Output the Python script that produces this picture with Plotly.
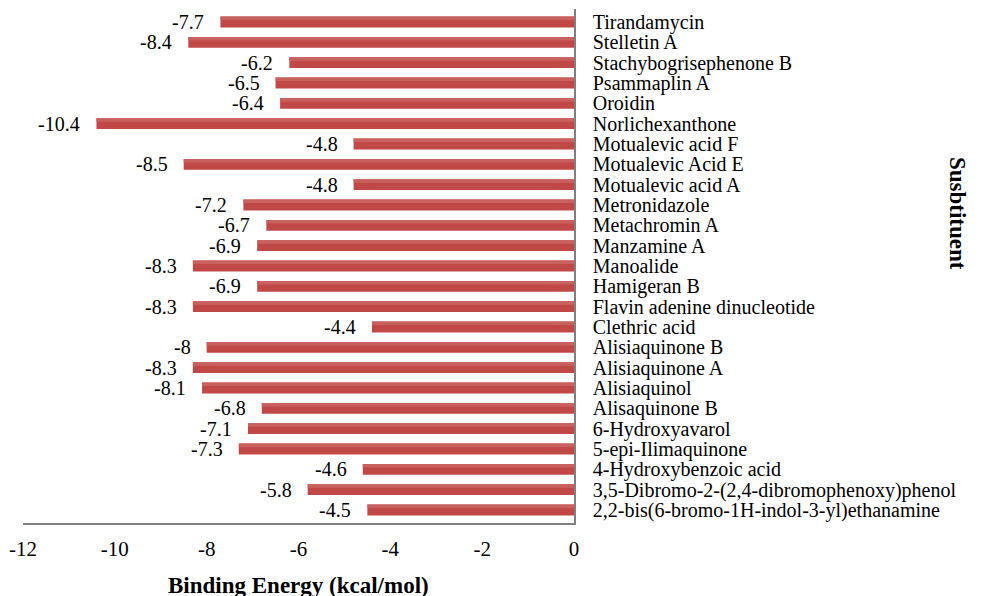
import plotly.graph_objects as go

compounds = [
    "Tirandamycin", "Stelletin A", "Stachybogrisephenone B", "Psammaplin A", "Oroidin",
    "Norlichexanthone", "Motualevic acid F", "Motualevic Acid E", "Motualevic acid A",
    "Metronidazole", "Metachromin A", "Manzamine A", "Manoalide", "Hamigeran B",
    "Flavin adenine dinucleotide", "Clethric acid", "Alisiaquinone B", "Alisiaquinone A",
    "Alisiaquinol", "Alisaquinone B", "6-Hydroxyavarol", "5-epi-Ilimaquinone",
    "4-Hydroxybenzoic acid", "3,5-Dibromo-2-(2,4-dibromophenoxy)phenol",
    "2,2-bis(6-bromo-1H-indol-3-yl)ethanamine",
]
binding_energy = [
    -7.7, -8.4, -6.2, -6.5, -6.4, -10.4, -4.8, -8.5, -4.8, -7.2, -6.7, -6.9, -8.3,
    -6.9, -8.3, -4.4, -8, -8.3, -8.1, -6.8, -7.1, -7.3, -4.6, -5.8, -4.5,
]
x_ticks = [-12, -10, -8, -6, -4, -2, 0]

FONT = "Liberation Serif"
OFF = 8  # page body margin
W, H = 981 - OFF, 596 - OFF
# target screen positions of plot area
L = 23 - OFF
R = W - (574 - OFF)
T = 9 - OFF
B = H - (523 - OFF)

fig = go.Figure()
fig.add_trace(go.Bar(
    x=binding_energy, y=compounds, orientation="h", width=0.53,
    marker=dict(color="#c04846", line=dict(width=0)),
    showlegend=False,
))
fig.add_trace(go.Bar(
    x=binding_energy, y=compounds, orientation="h", width=0.17, offset=-0.265,
    marker=dict(color="#c9625f", line=dict(width=0)),
    showlegend=False, hoverinfo="skip",
))

annotations = []
for c, v in zip(compounds, binding_energy):
    annotations.append(dict(
        x=v, y=c, xref="x", yref="y", text=f"{v:g}", showarrow=False,
        xanchor="right", yanchor="middle", xshift=-14,
        font=dict(family=FONT, size=20, color="black"),
    ))

pw = W - L - R
ph = H - T - B
annotations.append(dict(
    x=(298 - OFF - L) / pw, y=(H - B - (585 - OFF)) / ph, xref="paper", yref="paper",
    text="<b>Binding Energy (kcal/mol)</b>", showarrow=False,
    xanchor="center", yanchor="middle",
    font=dict(family=FONT, size=23, color="black"),
))
annotations.append(dict(
    x=(958 - OFF - L) / pw, y=(H - B - (213 - OFF)) / ph, xref="paper", yref="paper",
    text="<b>Susbtituent</b>", showarrow=False, textangle=90,
    xanchor="center", yanchor="middle",
    font=dict(family=FONT, size=23, color="black"),
))

fig.update_layout(
    width=W, height=H,
    margin=dict(l=L, r=R, t=T, b=B, autoexpand=False),
    paper_bgcolor="white", plot_bgcolor="white",
    font=dict(family=FONT, size=20, color="black"),
    barmode="overlay",
    annotations=annotations,
    xaxis=dict(
        range=[-12, 0], tickmode="array", tickvals=x_ticks,
        ticktext=[str(t) for t in x_ticks],
        showgrid=False, zeroline=False, showline=True, linecolor="#808080",
        linewidth=1.5, ticks="", ticklabelstandoff=6, automargin=False,
        tickfont=dict(family=FONT, size=21, color="black"),
    ),
    yaxis=dict(
        side="right", autorange="reversed", showgrid=False, zeroline=False,
        tickmode="array", tickvals=compounds, ticktext=compounds,
        showline=True, linecolor="#808080", linewidth=1.5, ticks="",
        ticklabelstandoff=13, automargin=False,
        tickfont=dict(family=FONT, size=20, color="black"),
    ),
)

fig.write_html("out.html")
